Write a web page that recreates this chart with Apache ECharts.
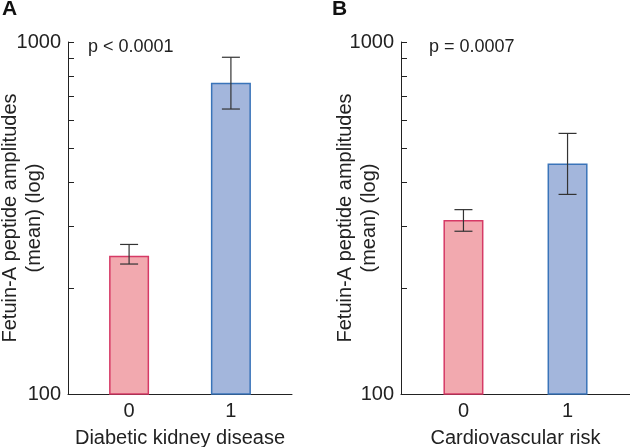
<!DOCTYPE html>
<html>
<head>
<meta charset="utf-8">
<script src="https://cdn.jsdelivr.net/npm/echarts@6/dist/echarts.min.js"></script>
<style>html,body{margin:0;padding:0;background:#fff}#c{width:630px;height:447px}</style>
</head>
<body>
<div id="c"></div>
<script>
const categories = [0, 1];
const panelLabels = ['A', 'B'];
const xTitles = ['Diabetic kidney disease', 'Cardiovascular risk'];
const pTexts = ['p < 0.0001', 'p = 0.0007'];
const yTitle = 'Fetuin-A peptide amplitudes\n(mean) (log)';
const yTicks = [100, 200, 300, 400, 500, 600, 700, 800, 900, 1000];
const yLabels = [100, 1000];
const meansA = [247, 766];
const lowA = [234, 645];
const highA = [266, 905];
const meansB = [312, 452];
const lowB = [290, 369];
const highB = [334, 550];

const fills = ['#F2A9AF', '#A3B6DC'];
const borders = ['#D63A66', '#3A74B9'];
const font = 'Liberation Sans, Arial, sans-serif';
const axisColor = '#222';

const grids = [
  {left: 68, top: 42, width: 224, height: 352, outerBoundsMode: 'none', containLabel: false},
  {left: 401, top: 42, width: 229, height: 352, outerBoundsMode: 'none', containLabel: false}
];

function xAxis(i) {
  return {
    type: 'value', gridIndex: i, min: -0.6, max: 1.6,
    name: xTitles[i], nameLocation: 'middle', nameGap: 34, nameMoveOverlap: false,
    nameTextStyle: {fontSize: 20, color: axisColor, fontFamily: font},
    axisLine: {show: true, onZero: false, lineStyle: {color: axisColor, width: 1}},
    axisTick: {show: false},
    splitLine: {show: false},
    axisLabel: {customValues: categories, fontSize: 20, color: axisColor, fontFamily: font, margin: 7}
  };
}
function yAxis(i, gap) {
  return {
    type: 'log', logBase: 10, gridIndex: i, min: 100, max: 1000,
    name: yTitle, nameLocation: 'middle', nameRotate: 90, nameGap: gap, nameMoveOverlap: false,
    nameTextStyle: {fontSize: 20, lineHeight: 24, color: axisColor, fontFamily: font},
    axisLine: {show: true, onZero: false, lineStyle: {color: axisColor, width: 1}},
    axisTick: {show: true, inside: true, length: 6, customValues: yTicks, lineStyle: {color: axisColor}},
    axisLabel: {customValues: yLabels, formatter: v => String(v), fontSize: 20, color: axisColor, fontFamily: font, margin: 7},
    splitLine: {show: false},
    minorTick: {show: false}
  };
}
function barSeries(i, means) {
  return {
    type: 'bar', xAxisIndex: i, yAxisIndex: i, barWidth: 40, clip: true,
    data: means.map((v, k) => ({
      value: [categories[k], v],
      itemStyle: {color: fills[k], borderColor: borders[k], borderWidth: 1.5}
    })),
    silent: true
  };
}
function errSeries(i, low, high) {
  return {
    type: 'custom', xAxisIndex: i, yAxisIndex: i, silent: true, z: 10,
    data: categories.map((c, k) => [c, low[k], high[k]]),
    renderItem: function (params, api) {
      const lo = api.coord([api.value(0), api.value(1)]);
      const hi = api.coord([api.value(0), api.value(2)]);
      const w = 9;
      const st = {stroke: '#333', lineWidth: 1.2};
      return {type: 'group', children: [
        {type: 'line', shape: {x1: hi[0], y1: hi[1], x2: lo[0], y2: lo[1]}, style: st},
        {type: 'line', shape: {x1: hi[0] - w, y1: hi[1], x2: hi[0] + w, y2: hi[1]}, style: st},
        {type: 'line', shape: {x1: lo[0] - w, y1: lo[1], x2: lo[0] + w, y2: lo[1]}, style: st}
      ]};
    }
  };
}

const chart = echarts.init(document.getElementById('c'), null, {renderer: 'canvas'});
chart.setOption({
  animation: false,
  grid: grids,
  xAxis: [xAxis(0), xAxis(1)],
  yAxis: [yAxis(0, 22), yAxis(1, 20)],
  series: [barSeries(0, meansA), errSeries(0, lowA, highA), barSeries(1, meansB), errSeries(1, lowB, highB)],
  graphic: [
    {type: 'text', left: 2, top: -1, style: {text: panelLabels[0], fontSize: 21, fontWeight: 'bold', fill: '#111', fontFamily: font}},
    {type: 'text', left: 332, top: -1, style: {text: panelLabels[1], fontSize: 21, fontWeight: 'bold', fill: '#111', fontFamily: font}},
    {type: 'text', left: 88, top: 38, style: {text: pTexts[0], fontSize: 18, fill: '#222', fontFamily: font}},
    {type: 'text', left: 429, top: 38, style: {text: pTexts[1], fontSize: 18, fill: '#222', fontFamily: font}}
  ]
});
</script>
</body>
</html>
